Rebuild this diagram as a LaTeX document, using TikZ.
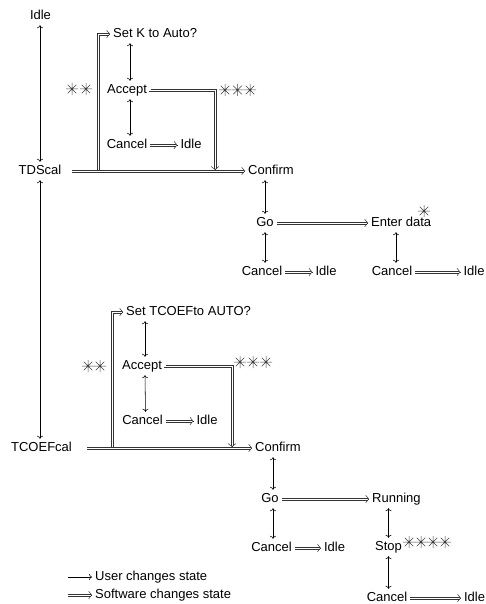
\documentclass[tikz,border=0pt]{standalone}
\usepackage{fontspec}
\setmainfont{Liberation Sans}
\usetikzlibrary{arrows.meta}
\begin{document}
\begin{tikzpicture}[x=1pt,y=-1pt,
  lbl/.style={font=\fontsize{13}{15}\selectfont, inner xsep=3pt, inner ysep=3pt, text height=9.5pt, text depth=2.5pt},
  ua/.style={line width=0.55pt, -{To[length=3pt,width=6pt]}},
  ub/.style={line width=0.55pt, {To[length=3pt,width=6pt]}-{To[length=3pt,width=6pt]}},
  dbl/.style n args={6}{
    postaction={draw=black!80,line width=0.5pt,shorten <=#3,shorten >=#4,transform canvas={shift={(#1,#2)}}},
    postaction={draw=black!80,line width=0.5pt,shorten <=#5,shorten >=#6,transform canvas={shift={(-#1,-#2)}}}},
  dh/.style={dbl={0pt}{1.1pt}{0pt}{1.2pt}{0pt}{1.2pt}},
  stip/.style={draw=black!80, line width=0.5pt, -{Straight Barb[length=3pt,width=7.5pt]}},
  ast/.pic={\draw[black!75, line width=0.5pt] (-6,0)--(6,0) (0,-6)--(0,6) (-4.3,-4.3)--(4.3,4.3) (-4.3,4.3)--(4.3,-4.3);}
]
\useasboundingbox (0,0) rectangle (486,604);
% upper part
\node[lbl] (idle0) at (40.5,16) {Idle};
\node[lbl] (tds) at (40,171) {TDScal};
\node[lbl,anchor=west] (setk) at (110,34) {Set K to Auto?};
\node[lbl] (acc1) at (127,90) {Accept};
\node[lbl] (can1) at (127,145) {Cancel};
\node[lbl] (idle1) at (191,145) {Idle};
\node[lbl,anchor=west] (conf1) at (245,171) {Confirm};
\node[lbl] (go1) at (265,223) {Go};
\node[lbl,anchor=west] (ent) at (368,223) {Enter data};
\node[lbl] (can2) at (262,272) {Cancel};
\node[lbl] (idle2) at (326,272) {Idle};
\node[lbl] (can3) at (392,272) {Cancel};
\node[lbl] (idle3) at (474,272) {Idle};
% lower part
\node[lbl] (tco) at (41.5,448) {TCOEFcal};
\node[lbl,anchor=west] (setT) at (123,312) {Set TCOEFto AUTO?};
\node[lbl] (acc2) at (142,366) {Accept};
\node[lbl] (can4) at (142.5,421) {Cancel};
\node[lbl] (idle4) at (207,421) {Idle};
\node[lbl,anchor=west] (conf2) at (252,448) {Confirm};
\node[lbl] (go2) at (270,499) {Go};
\node[lbl,anchor=west] (run) at (369,499) {Running};
\node[lbl] (can5) at (271.5,548) {Cancel};
\node[lbl] (idle5) at (334.5,548) {Idle};
\node[lbl] (stop) at (388.5,547) {Stop};
\node[lbl] (can6) at (387,598) {Cancel};
\node[lbl] (idle6) at (474.5,598) {Idle};
% legend
\coordinate (l1) at (68,577);
\coordinate (l2) at (68,595);
\node[lbl,anchor=west] (lg1) at (92,577) {User changes state};
\node[lbl,anchor=west] (lg2) at (92,595) {Software changes state};
\draw[ua] (l1) -- (lg1.west);
\path[dh] (l2) -- (lg2.west);
\draw[stip] ([xshift=-0.05pt]lg2.west) -- (lg2.west);

% left vertical connectors
\draw[ub] (tds.north) -- (tds.north |- idle0.south);
\draw[ub] (tds.south) -- (tds.south |- tco.north);

% upper connectors
\coordinate (j1) at (98,171);
\coordinate (t1) at (72,171);
\coordinate (d1) at (215,169.9);
\path[dbl={-1.1pt}{1.1pt}{0pt}{0pt}{2.2pt}{2pt}] (j1) |- (setk.west);
\draw[stip] ([xshift=-0.05pt]setk.west) -- (setk.west);
\path[dbl={1.1pt}{1.1pt}{0pt}{0.2pt}{0pt}{2pt}] (acc1.east) -| (d1);
\draw[stip] ([yshift=0.05pt]d1) -- (d1);
\path[dh] (t1) -- (conf1.west);
\draw[stip] ([xshift=-0.05pt]conf1.west) -- (conf1.west);
\draw[ub] ([xshift=3pt]acc1.north) -- ([xshift=3pt]acc1.north |- setk.south);
\draw[ub] ([xshift=3pt]acc1.south) -- ([xshift=3pt]can1.north);
\path[dh] (can1.east) -- (idle1.west);
\draw[stip] ([xshift=-0.05pt]idle1.west) -- (idle1.west);
\draw[ub] (go1.north) -- (go1.north |- conf1.south);
\path[dh] (go1.east) -- (ent.west);
\draw[stip] ([xshift=-0.05pt]ent.west) -- (ent.west);
\draw[ub] (go1.south) -- (go1.south |- can2.north);
\path[dh] (can2.east) -- (idle2.west);
\draw[stip] ([xshift=-0.05pt]idle2.west) -- (idle2.west);
\draw[ub] ([xshift=4pt]can3.north) -- ([xshift=4pt]can3.north |- ent.south);
\path[dh] (can3.east) -- (idle3.west);
\draw[stip] ([xshift=-0.05pt]idle3.west) -- (idle3.west);

% lower connectors
\coordinate (j2) at (112,448);
\coordinate (t2) at (87,448);
\coordinate (d2) at (232,446.9);
\path[dbl={-1.1pt}{1.1pt}{0pt}{0pt}{2.2pt}{2pt}] (j2) |- (setT.west);
\draw[stip] ([xshift=-0.05pt]setT.west) -- (setT.west);
\path[dbl={1.1pt}{1.1pt}{0pt}{0.2pt}{0pt}{2pt}] (acc2.east) -| (d2);
\draw[stip] ([yshift=0.05pt]d2) -- (d2);
\path[dh] (t2) -- (conf2.west);
\draw[stip] ([xshift=-0.05pt]conf2.west) -- (conf2.west);
\draw[ub] ([xshift=3pt]acc2.north) -- ([xshift=3pt]acc2.north |- setT.south);
\draw[ub] ([xshift=3pt]acc2.south) -- ([xshift=3pt]can4.north);
\path[dh] (can4.east) -- (idle4.west);
\draw[stip] ([xshift=-0.05pt]idle4.west) -- (idle4.west);
\draw[ub] ([xshift=3pt]go2.north) -- ([xshift=3pt]go2.north |- conf2.south);
\path[dh] (go2.east) -- (run.west);
\draw[stip] ([xshift=-0.05pt]run.west) -- (run.west);
\draw[ub] ([xshift=3pt]go2.south) -- ([xshift=3pt]go2.south |- can5.north);
\path[dh] (can5.east) -- (idle5.west);
\draw[stip] ([xshift=-0.05pt]idle5.west) -- (idle5.west);
\draw[ub] (stop.north) -- (stop.north |- run.south);
\draw[ub] (stop.south) -- (stop.south |- can6.north);
\path[dh] (can6.east) -- (idle6.west);
\draw[stip] ([xshift=-0.05pt]idle6.west) -- (idle6.west);

% asterisks
\pic at (72,89) {ast}; \pic at (86,89) {ast};
\pic at (225,90) {ast}; \pic at (237.5,90) {ast}; \pic at (250,90) {ast};
\pic at (424,211) {ast};
\pic at (88,366) {ast}; \pic at (100,366) {ast};
\pic at (240,362) {ast}; \pic at (253,362) {ast}; \pic at (266,362) {ast};
\pic at (409,542) {ast}; \pic at (421,542) {ast}; \pic at (433,542) {ast}; \pic at (445,542) {ast};
\end{tikzpicture}
\end{document}
